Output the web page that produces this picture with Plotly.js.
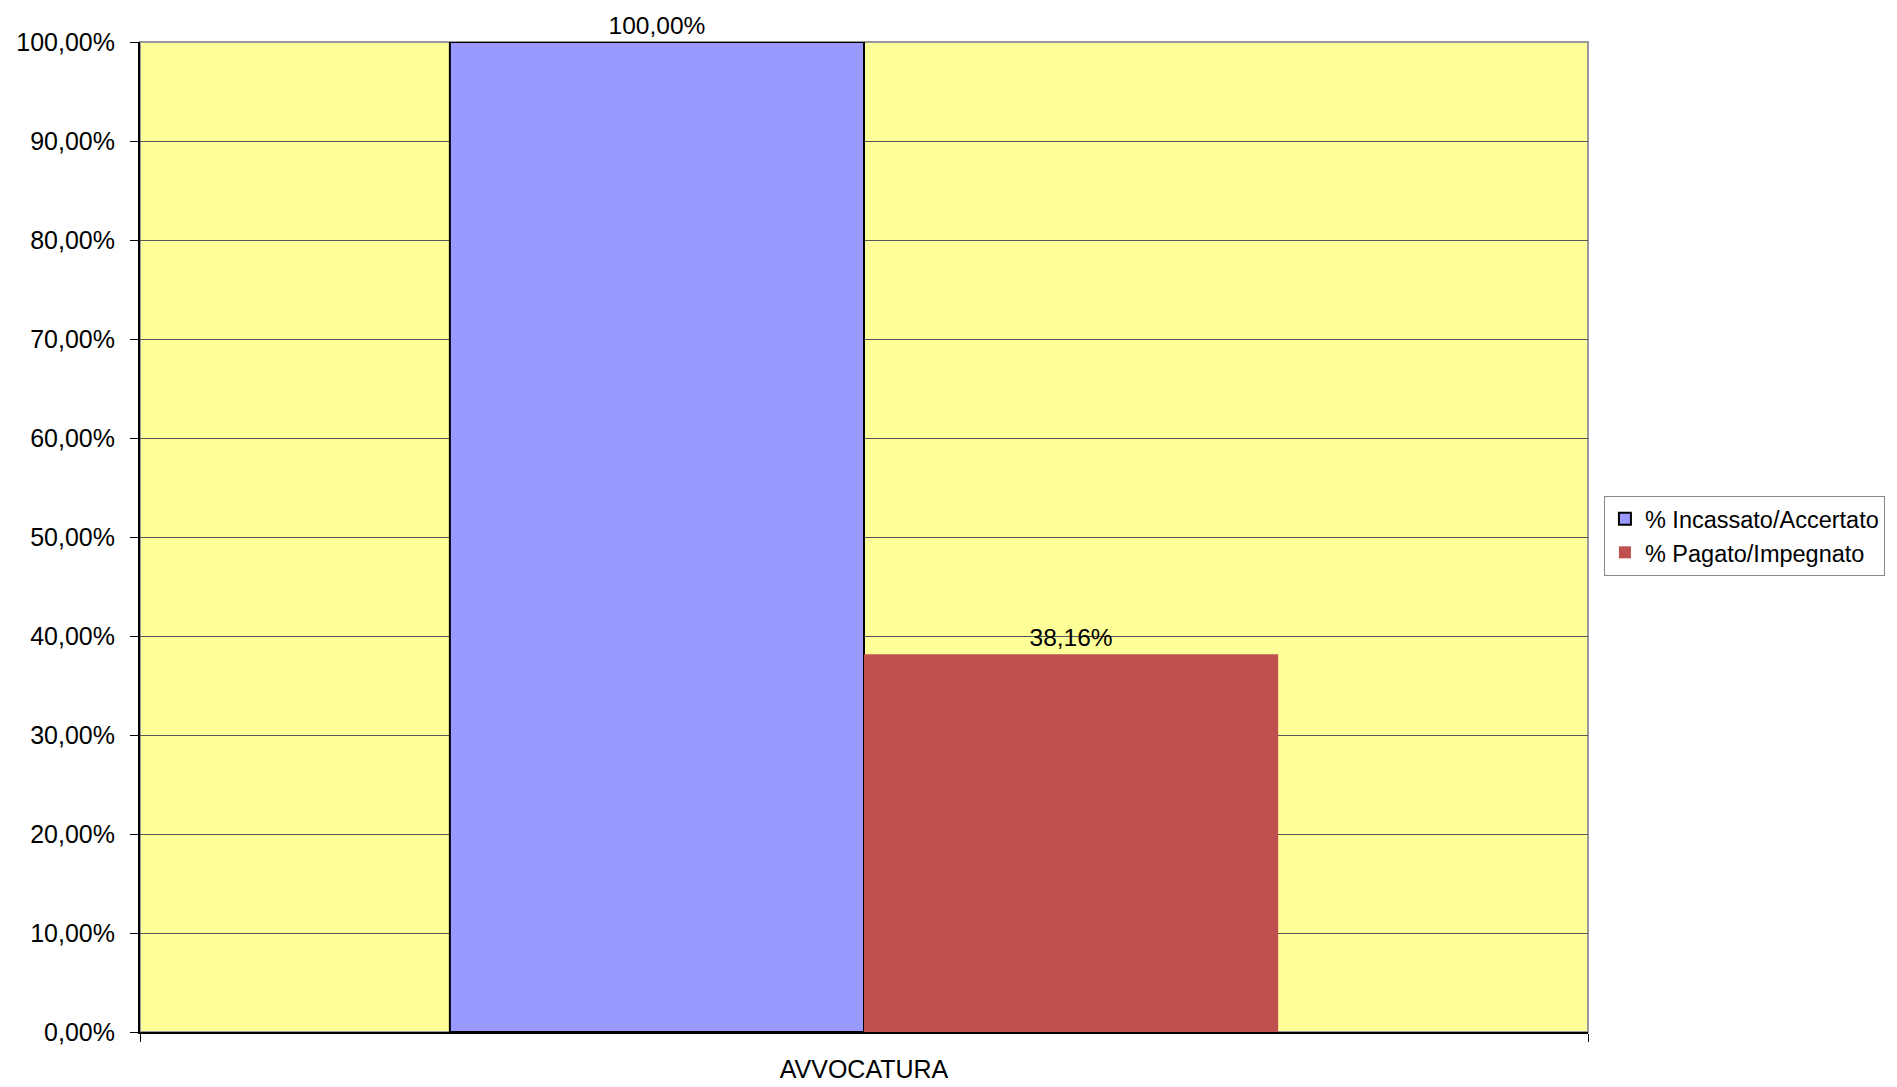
<!DOCTYPE html>
<html>
<head>
<meta charset="utf-8">
<script src="https://cdn.plot.ly/plotly-3.0.1.min.js"></script>
<style>html,body{margin:0;padding:0;background:#fff;}#chart{width:1897px;height:1087px;}</style>
</head>
<body>
<div id="chart"></div>
<script>
var categories = ["AVVOCATURA"];
var seriesNames = ["% Incassato/Accertato", "% Pagato/Impegnato"];
var incassatoValues = [100.00];
var pagatoValues = [38.16];
var yTickValues = [0, 10, 20, 30, 40, 50, 60, 70, 80, 90, 100];
var yTickLabels = ["0,00%", "10,00%", "20,00%", "30,00%", "40,00%", "50,00%", "60,00%", "70,00%", "80,00%", "90,00%", "100,00%"];

var font = "Liberation Sans, Arial, sans-serif";

var traces = [
  {
    type: "bar", name: seriesNames[0], x: categories, y: incassatoValues,
    marker: {color: "#9999FF", line: {color: "#000000", width: 2}},
    texttemplate: "%{y:.2f}%", textposition: "outside", cliponaxis: false,
    textfont: {family: font, size: 24.5, color: "#000"}
  },
  {
    type: "bar", name: seriesNames[1], x: categories, y: pagatoValues,
    marker: {color: "#C0504D", line: {color: "#C0504D", width: 0}},
    texttemplate: "%{y:.2f}%", textposition: "outside", cliponaxis: false,
    textfont: {family: font, size: 24.5, color: "#000"}
  }
];

var layout = {
  width: 1897, height: 1087,
  margin: {l: 140, r: 309, t: 42, b: 55, pad: 0},
  paper_bgcolor: "#ffffff",
  plot_bgcolor: "#FFFF99",
  separators: ",.",
  barmode: "group",
  bargap: 0.428,
  bargroupgap: 0,
  font: {family: font, size: 24, color: "#000"},
  showlegend: true,
  legend: {
    x: 1.011, xanchor: "left", y: 0.5414, yanchor: "top",
    bordercolor: "#888888", borderwidth: 1, bgcolor: "#ffffff",
    font: {family: font, size: 23.5, color: "#000"},
    itemwidth: 30, tracegroupgap: 0
  },
  xaxis: {
    type: "category",
    tickson: "boundaries",
    ticks: "outside", ticklen: 8, tickcolor: "#000", tickwidth: 1,
    showline: true, linecolor: "#000", linewidth: 2,
    showgrid: false, zeroline: false,
    tickfont: {family: font, size: 25, color: "#000"},
    ticklabelstandoff: 14
  },
  yaxis: {
    range: [0, 100],
    tickmode: "array",
    tickvals: yTickValues,
    ticktext: yTickLabels,
    ticks: "outside", ticklen: 8, tickcolor: "#000", tickwidth: 1,
    showline: true, linecolor: "#000", linewidth: 2,
    showgrid: true, gridcolor: "#555555", gridwidth: 1,
    zeroline: false,
    tickfont: {family: font, size: 25, color: "#000"},
    ticklabelstandoff: 10
  },
  shapes: [
    {type: "rect", xref: "paper", yref: "paper", x0: 0, x1: 1, y0: 0, y1: 1,
     line: {color: "#999999", width: 2}, layer: "below"}
  ]
};

Plotly.newPlot("chart", traces, layout, {displayModeBar: false, staticPlot: true});
</script>
</body>
</html>
